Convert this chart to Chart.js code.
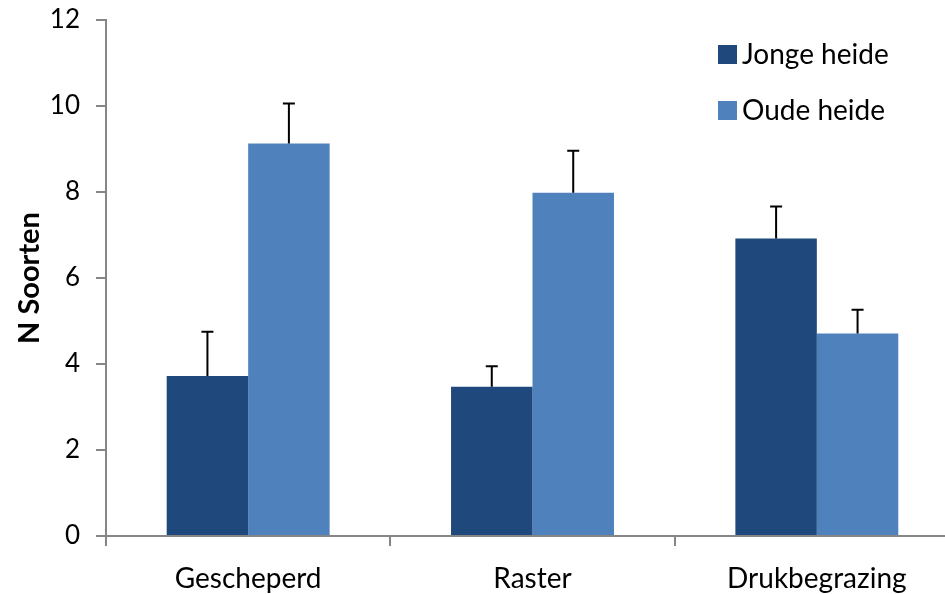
<!DOCTYPE html>
<html>
<head>
<meta charset="utf-8">
<script src="https://cdn.jsdelivr.net/npm/chart.js@4.4.0/dist/chart.umd.min.js"></script>
<style>
  html, body { margin:0; padding:0; background:#fff; overflow:hidden; }
  #wrap { position:relative; width:962px; height:594px; }
</style>
</head>
<body>
<div id="wrap"><canvas id="myChart" width="962" height="594"></canvas></div>
<script>
// data
const categories = ['Gescheperd', 'Raster', 'Drukbegrazing']
const series_names = ['Jonge heide', 'Oude heide']
const jonge_values = [3.72, 3.47, 6.92]
const jonge_err = [1.03, 0.48, 0.74]
const oude_values = [9.13, 7.98, 4.71]
const oude_err = [0.93, 0.98, 0.55]
const y_ticks = [0, 2, 4, 6, 8, 10, 12]

const FONT = 'Lato, "Open Sans", sans-serif'
const AXIS_GRAY = '#868686'

// error bar (only upward, like the original)
const errorbars = {
  id: 'errorbars',
  afterDatasetsDraw(chart) {
    const ctx = chart.ctx
    const y = chart.scales.y
    const errs = [jonge_err, oude_err]
    ctx.save()
    ctx.strokeStyle = '#000'
    ctx.lineWidth = 2
    chart.data.datasets.forEach((ds, i) => {
      chart.getDatasetMeta(i).data.forEach((bar, j) => {
        const top = y.getPixelForValue(ds.data[j])
        const up = y.getPixelForValue(ds.data[j] + errs[i][j])
        ctx.beginPath()
        ctx.moveTo(bar.x, top)
        ctx.lineTo(bar.x, up)
        ctx.moveTo(bar.x - 6, up)
        ctx.lineTo(bar.x + 6, up)
        ctx.stroke()
      })
    })
    ctx.restore()
  }
}

// legend inside the plot, top right
const side_legend = {
  id: 'side_legend',
  afterDraw(chart) {
    const ctx = chart.ctx
    ctx.save()
    ctx.font = '28px ' + FONT
    ctx.textBaseline = 'middle'
    ctx.textAlign = 'left'
    chart.data.datasets.forEach((ds, i) => {
      const cy = 55 + i * 56
      ctx.fillStyle = ds.backgroundColor
      ctx.fillRect(718, cy - 10, 19, 19)
      ctx.fillStyle = '#000'
      ctx.fillText(ds.label, 742, cy)
    })
    ctx.restore()
  }
}

new Chart(document.getElementById('myChart'), {
  type: 'bar',
  data: {
    labels: categories,
    datasets: [
      { label: series_names[0], data: jonge_values, backgroundColor: '#1F497D' },
      { label: series_names[1], data: oude_values, backgroundColor: '#4F81BD' }
    ]
  },
  options: {
    responsive: false,
    animation: false,
    categoryPercentage: 0.573,
    barPercentage: 1.0,
    layout: { padding: { top: 20, right: 3, left: 0, bottom: 0 } },
    plugins: {
      legend: { display: false },
      tooltip: { enabled: false }
    },
    scales: {
      x: {
        afterFit: (s) => { s.height = 58 },
        border: { color: AXIS_GRAY, width: 2 },
        grid: { drawOnChartArea: false, color: AXIS_GRAY, lineWidth: 2, tickLength: 10, offset: true },
        ticks: { color: '#000', font: { family: FONT, size: 28 }, padding: 16 }
      },
      y: {
        min: 0,
        max: 12,
        afterFit: (s) => { s.width = 106; s.paddingTop = 0; s.paddingBottom = 0 },
        afterBuildTicks: (s) => { s.ticks = y_ticks.map(v => ({ value: v })) },
        border: { color: AXIS_GRAY, width: 2 },
        grid: { drawOnChartArea: false, color: AXIS_GRAY, lineWidth: 2, tickLength: 10 },
        ticks: { color: '#000', font: { family: FONT, size: 26 }, padding: 16 },
        title: {
          display: true,
          text: 'N Soorten',
          color: '#000',
          font: { family: FONT, size: 29, weight: 'bold' },
          padding: { top: 12, bottom: 8 }
        }
      }
    }
  },
  plugins: [errorbars, side_legend]
})
</script>
</body>
</html>
